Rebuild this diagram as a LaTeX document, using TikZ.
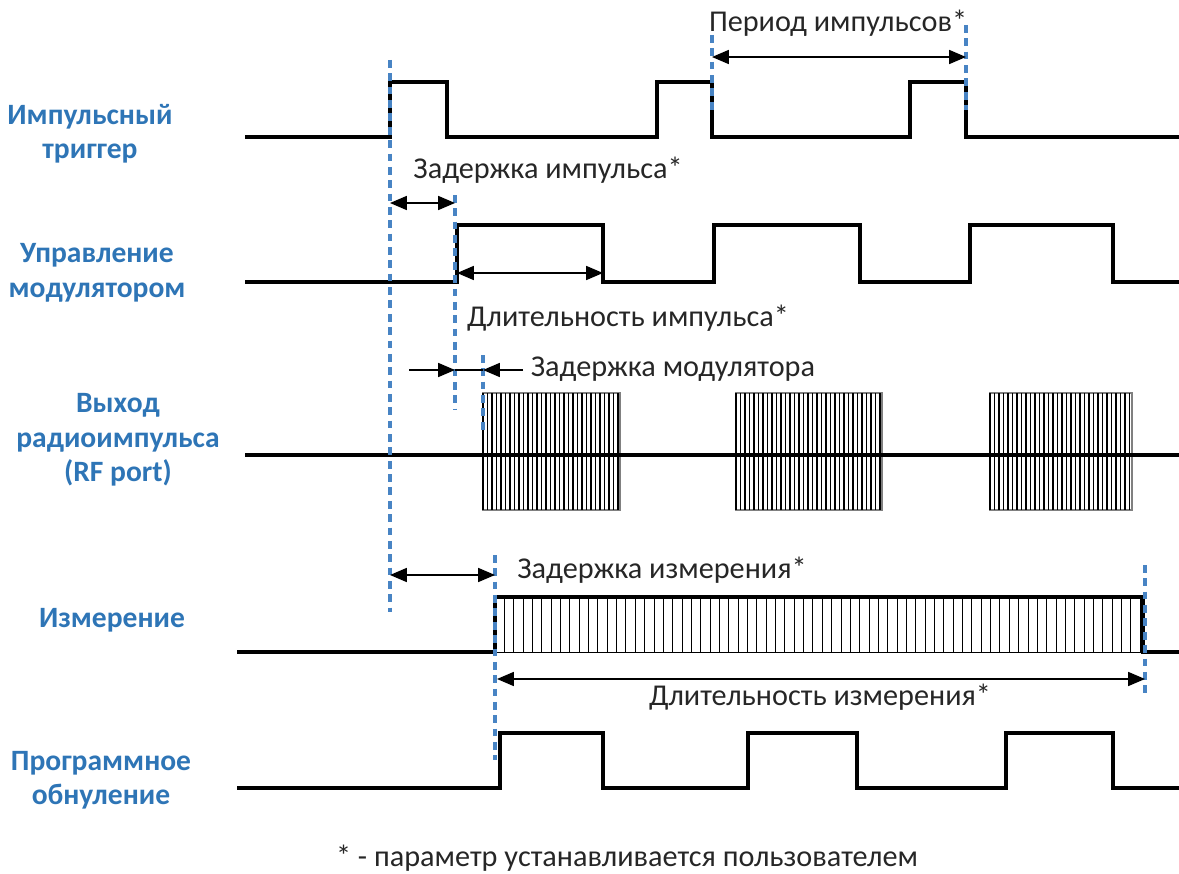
\documentclass[tikz,border=0pt]{standalone}
\usepackage{fontspec}
\setmainfont{Carlito}
\usetikzlibrary{arrows.meta}
\definecolor{lblblue}{RGB}{46,117,182}
\definecolor{mrkblue}{RGB}{72,132,196}
\definecolor{anngray}{RGB}{38,38,38}
\tikzset{
  wave/.style={line width=2.2pt,line join=miter},
  mrk/.style={mrkblue,line width=2.8pt,dash pattern=on 5.5pt off 4pt},
  dim/.style={line width=1pt,{Triangle[length=12pt,width=10pt]}-{Triangle[length=12pt,width=10pt]}},
  tipto/.style={line width=1pt,-{Triangle[length=12pt,width=10pt]}},
  hatch/.style={line width=0.6pt},
  sig/.style={font=\fontsize{21}{24.5}\selectfont\bfseries,text=lblblue,align=center},
  ann/.style={font=\fontsize{21.5}{25}\selectfont,text=anngray,inner sep=0pt}
}

\begin{document}
\begin{tikzpicture}[x=0.025cm,y=-0.025cm]
\useasboundingbox (0,0) rectangle (1179,874);

% signal names
\node[sig] (trig) at (90,134) {Импульсный\\триггер};
\node[sig] (modctl) at (97,273) {Управление\\модулятором};
\node[sig] (rfout) at (118,440) {Выход\\радиоимпульса\\(RF port)};
\node[sig] (meas) at (112,620) {Измерение};
\node[sig] (swrst) at (101,780) {Программное\\обнуление};

% trigger
\draw[wave] (245,137) -- (390,137) -- (390,82) -- (447,82) -- (447,137) -- (657,137) -- (657,82) -- (712,82) -- (712,137) -- (910,137) -- (910,82) -- (966,82) -- (966,137) -- (1179,137);
% modulator control
\draw[wave] (245,282) -- (457,282) -- (457,225) -- (603,225) -- (603,282) -- (714,282) -- (714,225) -- (860,225) -- (860,282) -- (970,282) -- (970,225) -- (1113,225) -- (1113,282) -- (1179,282);
% rf bursts
\foreach \a/\b/\n in {483/620/30,736/882/32,990/1132/31}{
  \draw[gray,line width=0.8pt] (\a,393) rectangle (\b,510);
  \foreach \k in {0,...,\n}
    \draw[line width=1.4pt] (\a+4.5*\k,393) -- (\a+4.5*\k,510);
}
\draw[wave] (245,455) -- (1179,455);
% measurement
\foreach \k in {1,...,69}
  \draw[hatch] (495+9.35*\k,597) -- (495+9.35*\k,652);
\draw[hatch] (495,652) -- (1143,652);
\draw[wave] (237,652) -- (495,652) -- (495,597) -- (1143,597) -- (1143,652) -- (1179,652);
% software reset
\draw[wave] (237,788) -- (500,788) -- (500,733) -- (603,733) -- (603,788) -- (748,788) -- (748,733) -- (857,733) -- (857,788) -- (1006,788) -- (1006,733) -- (1113,733) -- (1113,788) -- (1179,788);

% markers
\draw[mrk] (390,60) -- (390,612);
\draw[mrk] (455,195) -- (455,410);
\draw[mrk] (483,355) -- (483,430);
\draw[mrk] (495,555) -- (495,760);
\draw[mrk] (712,35) -- (712,110);
\draw[mrk] (966,25) -- (966,110);
\draw[mrk] (1145,565) -- (1145,697);

% dimension ends
\coordinate (perA) at (712,57);
\coordinate (perB) at (966,57);
\coordinate (pdA) at (390,203);
\coordinate (pdB) at (455,203);
\coordinate (pwA) at (457,273);
\coordinate (pwB) at (603,273);
\coordinate (mdA) at (409,370);
\coordinate (mdB) at (455,370);
\coordinate (mdC) at (483,370);
\coordinate (mdD) at (523,370);
\coordinate (tdA) at (390,575);
\coordinate (tdB) at (495,575);
\coordinate (twA) at (497,679);
\coordinate (twB) at (1145,679);

\draw[dim] (perA) -- (perB);
\draw[dim] (pdA) -- (pdB);
\draw[dim] (pwA) -- (pwB);
\draw[tipto] (mdA) -- (mdB);
\draw[line width=1pt] (mdB) -- (mdC);
\draw[tipto] (mdD) -- (mdC);
\draw[dim] (tdA) -- (tdB);
\draw[dim] (twA) -- (twB);

% annotations
\node[ann] (period) at (838,23) {Период импульсов*};
\node[ann] (pdelay) at (548,170) {Задержка импульса*};
\node[ann] (pwidth) at (628,318) {Длительность импульса*};
\node[ann] (mdelay) at (673,369) {Задержка модулятора};
\node[ann] (tdelay) at (662,570) {Задержка измерения*};
\node[ann] (twidth) at (820,697) {Длительность измерения*};
\node[ann] (note) at (627,858) {* - параметр устанавливается пользователем};

\end{tikzpicture}
\end{document}
